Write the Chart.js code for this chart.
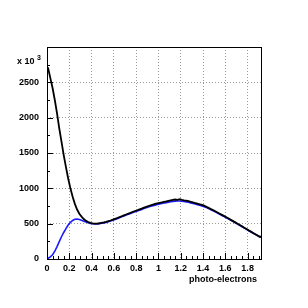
<!DOCTYPE html>
<html>
<head>
<meta charset="UTF-8">
<title>photo-electrons</title>
<script src="https://cdn.jsdelivr.net/npm/chart.js"></script>
<style>
  html, body { margin: 0; padding: 0; background: #fff; }
  #c { display: block; }
</style>
</head>
<body>
<canvas id="c" width="308" height="308"></canvas>
<script>
// histogram bins: width 0.02, from 0 to 1.92
const binWidth = 0.02;
const xMax = 1.92;

// bin contents (in units of 10^3)
const blackCounts = [
  2700, 2560, 2420, 2250, 2060, 1850, 1660, 1470, 1300, 1140,
  1000, 880, 780, 700, 640, 600, 565, 540, 522, 510,
  503, 500, 502, 506, 512, 518, 526, 535, 545, 556,
  568, 580, 592, 605, 618, 630, 642, 655, 667, 679,
  690, 702, 714, 726, 738, 750, 760, 770, 779, 787,
  795, 802, 810, 816, 824, 830, 836, 842, 838, 846,
  836, 830, 825, 818, 810, 800, 792, 783, 774, 765,
  755, 740, 724, 708, 692, 675, 658, 641, 624, 607,
  590, 572, 554, 536, 518, 500, 481, 462, 443, 424,
  405, 387, 369, 351, 333, 315
];
const blueCounts = [
  10, 30, 60, 110, 175, 245, 315, 375, 430, 480,
  520, 545, 562, 566, 560, 548, 535, 522, 512, 503,
  498, 495, 497, 500, 505, 511, 518, 527, 537, 548,
  559, 571, 583, 596, 609, 621, 633, 645, 657, 668,
  679, 690, 701, 713, 724, 735, 745, 754, 762, 770,
  778, 785, 792, 798, 805, 810, 815, 818, 820, 820,
  818, 814, 808, 802, 794, 786, 778, 769, 760, 751,
  741, 728, 713, 698, 683, 667, 650, 633, 616, 599,
  582, 565, 547, 529, 511, 493, 475, 456, 437, 419,
  400, 382, 364, 347, 330, 313
];

const xTicks = [0, 0.2, 0.4, 0.6, 0.8, 1, 1.2, 1.4, 1.6, 1.8];
const yTicks = [0, 500, 1000, 1500, 2000, 2500];
const xMinor = 0.05;
const yMinor = 250;

// points at bin centres, with the outer bins held to the axis edges
function histPoints(counts) {
  const pts = [{ x: 0, y: counts[0] }];
  counts.forEach((v, i) => pts.push({ x: (i + 0.5) * binWidth, y: v }));
  pts.push({ x: xMax, y: counts[counts.length - 1] });
  return pts;
}

const labelFont = { family: 'Liberation Sans, Arial, sans-serif', size: 9, weight: 'bold' };

// ROOT-style frame, inner tick marks and extra texts
const frameDeco = {
  id: 'frameDeco',
  afterDatasetsDraw(chart) {
    const { ctx, chartArea: a, scales: { x, y } } = chart;
    ctx.save();
    ctx.strokeStyle = '#000';
    ctx.lineWidth = 1;
    ctx.beginPath();
    for (let v = 0; v <= xMax + 1e-9; v += xMinor) {
      const px = Math.round(x.getPixelForValue(v)) + 0.5;
      const major = Math.abs(v / 0.2 - Math.round(v / 0.2)) < 1e-6;
      ctx.moveTo(px, a.bottom);
      ctx.lineTo(px, a.bottom - (major ? 6 : 3));
    }
    for (let v = 0; v <= 3000; v += yMinor) {
      const py = Math.round(y.getPixelForValue(v)) + 0.5;
      const major = v % 500 === 0;
      ctx.moveTo(a.left, py);
      ctx.lineTo(a.left + (major ? 6 : 3), py);
    }
    ctx.stroke();
    ctx.strokeRect(Math.round(a.left) + 0.5, Math.round(a.top) + 0.5,
      Math.round(a.right - a.left), Math.round(a.bottom - a.top));

    ctx.fillStyle = '#000';
    ctx.font = 'bold 9px Liberation Sans, Arial, sans-serif';
    ctx.textBaseline = 'middle';
    ctx.textAlign = 'left';
    ctx.fillText('x 10', 17, 62);
    ctx.font = 'bold 7px Liberation Sans, Arial, sans-serif';
    ctx.fillText('3', 37, 58);
    ctx.font = 'bold 9px Liberation Sans, Arial, sans-serif';
    ctx.textAlign = 'right';
    ctx.fillText('photo-electrons', 257, 280);
    ctx.restore();
  }
};

new Chart(document.getElementById('c'), {
  type: 'line',
  data: {
    datasets: [
      {
        label: 'all',
        data: histPoints(blackCounts),
        borderColor: '#000',
        borderWidth: 1.8,
        pointRadius: 0,
        tension: 0,
        fill: false
      },
      {
        label: 'selected',
        data: histPoints(blueCounts),
        borderColor: '#1a1aff',
        borderWidth: 1.6,
        pointRadius: 0,
        tension: 0,
        fill: false
      }
    ]
  },
  options: {
    responsive: false,
    animation: false,
    events: [],
    layout: { padding: { top: 47, right: 47, left: 0, bottom: 0 } },
    plugins: { legend: { display: false }, tooltip: { enabled: false } },
    scales: {
      x: {
        type: 'linear',
        min: 0,
        max: xMax,
        afterBuildTicks: s => { s.ticks = xTicks.map(v => ({ value: v })); },
        afterFit: s => { s.height = 49; },
        ticks: {
          color: '#000',
          font: labelFont,
          padding: 4,
          maxRotation: 0,
          autoSkip: false,
          callback: v => String(Math.round(v * 10) / 10)
        },
        grid: { color: '#9a9a9a', lineWidth: 1, drawTicks: false },
        border: { display: false, dash: [1, 2] }
      },
      y: {
        type: 'linear',
        min: 0,
        max: 3000,
        afterBuildTicks: s => { s.ticks = yTicks.map(v => ({ value: v })); },
        afterFit: s => { s.width = 47; },
        ticks: {
          color: '#000',
          font: labelFont,
          padding: 8,
          callback: v => String(v)
        },
        grid: { color: '#9a9a9a', lineWidth: 1, drawTicks: false },
        border: { display: false, dash: [1, 2] }
      }
    }
  },
  plugins: [frameDeco]
});
</script>
</body>
</html>
